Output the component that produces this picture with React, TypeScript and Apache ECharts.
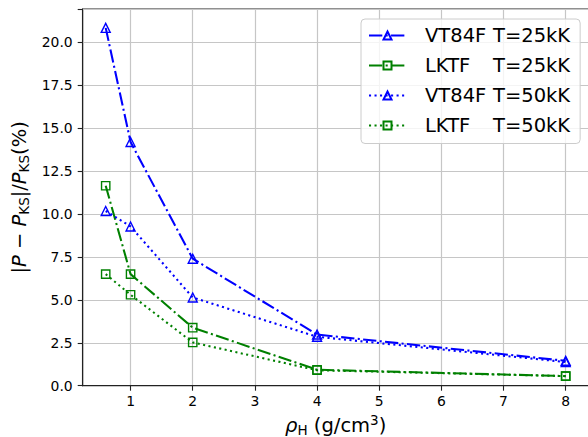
import React, { useEffect, useRef } from 'react';
import * as echarts from 'echarts';

const rho = [0.6, 1, 2, 4, 8];
const vt84f25 = [20.85, 14.2, 7.4, 2.98, 1.45];
const lktf25 = [11.65, 6.5, 3.38, 0.93, 0.56];
const vt84f50 = [10.18, 9.28, 5.14, 2.85, 1.38];
const lktf50 = [6.5, 5.3, 2.52, 0.9, 0.56];
const seriesNames = ['VT84F T=25kK', 'LKTF   T=25kK', 'VT84F T=50kK', 'LKTF   T=50kK'];
const xTicks = [1, 2, 3, 4, 5, 6, 7, 8];

const BLUE = '#0000ff';
const GREEN = '#008000';
const FONT = 'DejaVu Sans';

export default function App() {
  const ref = useRef<HTMLDivElement>(null);
  useEffect(() => {
    if (!ref.current) return;
    const chart = echarts.init(ref.current, undefined, { renderer: 'svg' });
    const lw = 2.08;
    const dashDot = [6.4 * lw, 1.6 * lw, 1 * lw, 1.6 * lw];
    const dotted = [1 * lw, 1.65 * lw];
    const mk = (name: string, vals: number[], color: string, symbol: string, dash: number[]) => ({
      name,
      type: 'line',
      data: rho.map((x, i) => [x, vals[i]]),
      symbol,
      symbolSize: symbol === 'triangle' ? 9 : 8.3,
      showAllSymbol: true,
      lineStyle: { color, width: lw, type: dash },
      itemStyle: { color: 'rgba(255,255,255,0)', borderColor: color, borderWidth: 1.39 },
      emphasis: { disabled: true },
    });
    const option: any = {
      animation: false,
      textStyle: { fontFamily: FONT },
      grid: {
        left: 82.7,
        top: 9,
        right: -0.7,
        bottom: 51.3,
        outerBoundsMode: 'none',
        containLabel: false,
        show: true,
        borderColor: '#222',
        borderWidth: 1.1,
        backgroundColor: 'transparent',
      },
      legend: {
        orient: 'vertical',
        left: 361,
        top: 19,
        padding: [6.5, 10, 8, 7],
        itemWidth: 37,
        itemHeight: 10,
        itemGap: 10,
        backgroundColor: 'rgba(255,255,255,0.8)',
        borderColor: '#cccccc',
        borderWidth: 1,
        borderRadius: 4,
        data: seriesNames,
        formatter: (name: string) => {
          const parts = name.split(/\s+/);
          return `{a|${parts[0]}}{b|${parts[1]}}`;
        },
        textStyle: {
          fontFamily: FONT,
          fontSize: 19.5,
          color: '#000',
          rich: {
            a: { fontFamily: FONT, fontSize: 19.5, width: 68, padding: [0, 0, 0, 14], lineHeight: 19, color: '#000' },
            b: { fontFamily: FONT, fontSize: 19.5, lineHeight: 19, color: '#000' },
          },
        },
      },
      xAxis: {
        type: 'value',
        min: 0.23,
        max: 8.37,
        axisLine: { show: true, onZero: false, lineStyle: { color: '#222', width: 1.1 } },
        axisTick: { show: true, length: 5, lineStyle: { color: '#222', width: 1.1 }, customValues: xTicks },
        axisLabel: { customValues: xTicks, fontSize: 13.9, color: '#000', margin: 8, fontFamily: FONT },
        splitLine: { show: true, lineStyle: { color: '#c6c6c6', width: 1.2 } },
        name: '{i|ρ}{s|H}{n| (g/cm}{p|3}{n|)}',
        nameLocation: 'middle',
        nameGap: 26,
        nameTextStyle: {
          fontFamily: FONT,
          color: '#000',
          rich: {
            i: { fontFamily: FONT, fontSize: 19.5, fontStyle: 'italic', color: '#000' },
            s: { fontFamily: FONT, fontSize: 13.5, padding: [8, 0, 0, 0], color: '#000' },
            n: { fontFamily: FONT, fontSize: 19.5, color: '#000' },
            p: { fontFamily: FONT, fontSize: 13.5, padding: [0, 0, 12, 0], color: '#000' },
          },
        },
      },
      yAxis: {
        type: 'value',
        min: 0,
        max: 21.95,
        interval: 2.5,
        axisLine: { show: true, lineStyle: { color: '#222', width: 1.1 } },
        axisTick: { show: true, length: 5, lineStyle: { color: '#222', width: 1.1 } },
        axisLabel: {
          fontSize: 13.9,
          color: '#000',
          margin: 10,
          fontFamily: FONT,
          formatter: (v: number) => (v > 21 ? '' : v.toFixed(1)),
        },
        splitLine: { show: true, lineStyle: { color: '#c6c6c6', width: 1.2 } },
        name: '{n||}{i|P}{n| − }{i|P}{s|KS}{n||/}{i|P}{s|KS}{n|(%)}',
        nameLocation: 'middle',
        nameRotate: 90,
        nameGap: 50,
        nameTextStyle: {
          fontFamily: FONT,
          color: '#000',
          rich: {
            i: { fontFamily: FONT, fontSize: 19.5, fontStyle: 'italic', color: '#000' },
            s: { fontFamily: FONT, fontSize: 13.5, padding: [8, 0, 0, 0], color: '#000' },
            n: { fontFamily: FONT, fontSize: 19.5, color: '#000' },
          },
        },
      },
      series: [
        mk(seriesNames[0], vt84f25, BLUE, 'triangle', dashDot),
        mk(seriesNames[1], lktf25, GREEN, 'rect', dashDot),
        mk(seriesNames[2], vt84f50, BLUE, 'triangle', dotted),
        mk(seriesNames[3], lktf50, GREEN, 'rect', dotted),
      ],
    };
    chart.setOption(option);
    return () => chart.dispose();
  }, []);
  return (
    <div
      ref={ref}
      style={{ position: 'absolute', left: 0, top: 0, width: 588, height: 437, background: '#fff' }}
    />
  );
}
